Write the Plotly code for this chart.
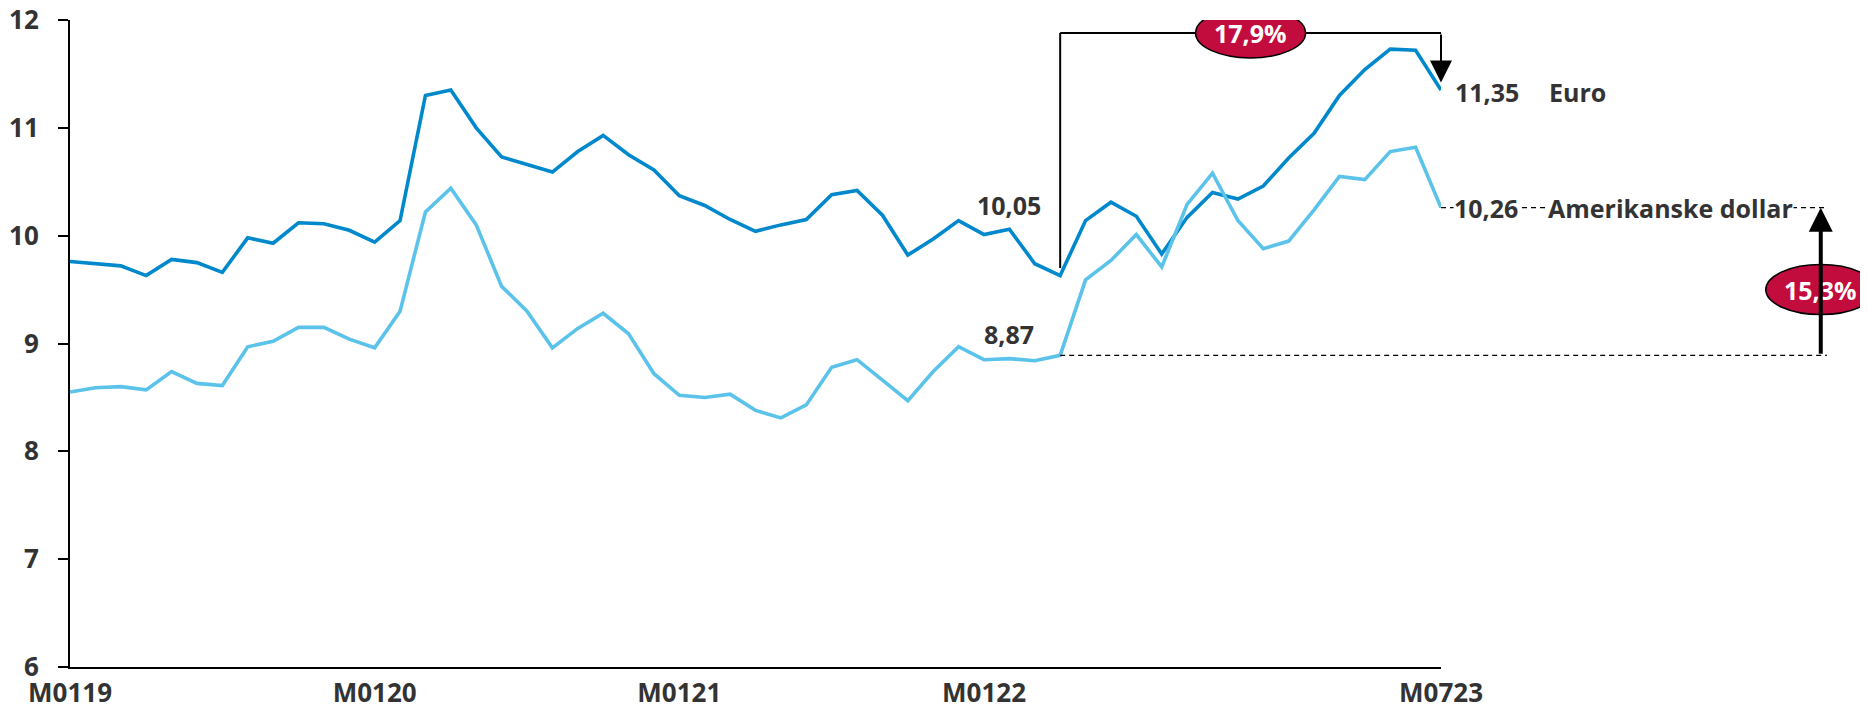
import plotly.graph_objects as go

months = [f"M{m:02d}{y:02d}" for y in range(19, 24) for m in range(1, 13)][:55]

euro = [9.76, 9.74, 9.72, 9.63, 9.78, 9.75, 9.66, 9.98, 9.93, 10.12,
        10.11, 10.05, 9.94, 10.14, 11.30, 11.35, 11.00, 10.73, 10.66, 10.59,
        10.78, 10.93, 10.75, 10.61, 10.37, 10.28, 10.15, 10.04, 10.10, 10.15,
        10.38, 10.42, 10.19, 9.82, 9.97, 10.14, 10.01, 10.06, 9.74, 9.63,
        10.14, 10.31, 10.18, 9.83, 10.17, 10.40, 10.34, 10.46, 10.72, 10.95,
        11.30, 11.54, 11.73, 11.72, 11.35]

usd = [8.55, 8.59, 8.60, 8.57, 8.74, 8.63, 8.61, 8.97, 9.02, 9.15,
       9.15, 9.04, 8.96, 9.30, 10.22, 10.44, 10.10, 9.53, 9.30, 8.96,
       9.14, 9.28, 9.09, 8.72, 8.52, 8.50, 8.53, 8.38, 8.31, 8.43,
       8.78, 8.85, 8.66, 8.47, 8.74, 8.97, 8.85, 8.86, 8.84, 8.89,
       9.59, 9.77, 10.01, 9.71, 10.29, 10.58, 10.14, 9.88, 9.95, 10.24,
       10.55, 10.52, 10.78, 10.82, 10.26]

tick_idx = [0, 12, 24, 36, 54]
tick_labels = ["M0119", "M0120", "M0121", "M0122", "M0723"]

ref_idx = 39
euro_label, usd_label = "11,35", "10,26"
euro_ref_label, usd_ref_label = "10,05", "8,87"
pct_euro, pct_usd = "17,9%", "15,3%"

EURO_C = "#0088CC"
USD_C = "#5BC3EA"
RED = "#C20C3E"
TXT = "#333333"
FONT = "Open Sans"
FS = 25

x = list(range(len(months)))

fig = go.Figure()
fig.add_trace(go.Scatter(x=x, y=euro, mode="lines", name="Euro",
                         line=dict(color=EURO_C, width=3.6), cliponaxis=False))
fig.add_trace(go.Scatter(x=x, y=usd, mode="lines", name="Amerikanske dollar",
                         line=dict(color=USD_C, width=3.6), cliponaxis=False))

last = len(x) - 1
paper = lambda i: i / last
ext = 1.2815
bracket_y = 11.88
pct_x_paper = 1.277
pct_usd_y = 9.50

shapes = [
    dict(type="line", xref="x", yref="y", x0=ref_idx, x1=ref_idx, y0=euro[ref_idx] + 0.07, y1=bracket_y,
         line=dict(color="black", width=2)),
    dict(type="line", xref="x", yref="y", x0=ref_idx, x1=last, y0=bracket_y, y1=bracket_y,
         line=dict(color="black", width=2)),
    dict(type="line", xref="paper", yref="y", x0=paper(ref_idx), x1=ext, y0=usd[ref_idx], y1=usd[ref_idx],
         line=dict(color="black", width=1.2, dash="5px,4px")),
    dict(type="line", xref="paper", yref="y", x0=1.0, x1=ext, y0=usd[-1], y1=usd[-1],
         line=dict(color="black", width=1.2, dash="5px,4px")),
    dict(type="circle", xref="x", yref="y", xsizemode="pixel", ysizemode="pixel",
         xanchor=46.5, yanchor=bracket_y, x0=-55, x1=55, y0=-25, y1=25,
         fillcolor=RED, line=dict(color="black", width=1.5), layer="above"),
    dict(type="circle", xref="paper", yref="y", xsizemode="pixel", ysizemode="pixel",
         xanchor=pct_x_paper, yanchor=pct_usd_y, x0=-55, x1=55, y0=-25, y1=25,
         fillcolor=RED, line=dict(color="black", width=1.5), layer="above"),
]

bold = dict(family=FONT, size=FS, color=TXT, weight="bold")
tickbold = dict(family=FONT, size=26, color=TXT, weight="bold")
white = dict(family=FONT, size=FS, color="white", weight="bold")

annotations = [
    dict(x=37.0, y=10.28, xref="x", yref="y", text=euro_ref_label, showarrow=False, font=bold,
         xanchor="center"),
    dict(x=37.0, y=9.09, xref="x", yref="y", text=usd_ref_label, showarrow=False, font=bold,
         xanchor="center"),
    dict(x=1.009, y=11.33, xref="paper", yref="y", text=euro_label, showarrow=False, font=bold,
         xanchor="left"),
    dict(x=1.0775, y=11.33, xref="paper", yref="y", text="Euro", showarrow=False, font=bold,
         xanchor="left"),
    dict(x=1.009, y=usd[-1], xref="paper", yref="y", text=usd_label, showarrow=False, font=bold,
         xanchor="left", bgcolor="white", borderpad=0),
    dict(x=1.0775, y=usd[-1], xref="paper", yref="y", text="Amerikanske dollar", showarrow=False,
         font=bold, xanchor="left", bgcolor="white", borderpad=0),
    dict(x=46.5, y=bracket_y, xref="x", yref="y", text=pct_euro, showarrow=False, font=white,
         xanchor="center"),
    dict(x=pct_x_paper, y=pct_usd_y, xref="paper", yref="y", text=pct_usd, showarrow=False, font=white,
         xanchor="center"),
    dict(x=last, y=11.42, xref="x", yref="y", ax=last, ay=bracket_y, axref="x", ayref="y",
         text="", showarrow=True, arrowhead=2, arrowsize=2.2, arrowwidth=2, arrowcolor="black"),
    dict(x=pct_x_paper, y=usd[-1], xref="paper", yref="y", ax=0, ay=usd[ref_idx], axref="pixel", ayref="y",
         text="", showarrow=True, arrowhead=2, arrowsize=1.2, arrowwidth=4, arrowcolor="black"),
]

fig.update_layout(
    width=1868, height=708,
    margin=dict(l=62, r=435, t=12, b=49),
    paper_bgcolor="white", plot_bgcolor="white",
    showlegend=False,
    shapes=shapes, annotations=annotations,
    font=dict(family=FONT, color=TXT),
)
fig.update_xaxes(range=[0, last], tickmode="array", tickvals=tick_idx, ticktext=tick_labels,
                 showgrid=False, zeroline=False, showline=True, linecolor="black", linewidth=2,
                 ticks="", tickfont=tickbold, ticklabelstandoff=2, automargin=False,
                 ticklabeloverflow="allow")
fig.update_yaxes(range=[6, 12], tickmode="array", tickvals=[6, 7, 8, 9, 10, 11, 12],
                 showgrid=False, zeroline=False, showline=True, linecolor="black", linewidth=2,
                 ticks="outside", ticklen=10, tickwidth=2, tickcolor="black", tickfont=tickbold,
                 ticklabelstandoff=14, automargin=False, ticklabeloverflow="allow")

fig.write_html("out.html")
